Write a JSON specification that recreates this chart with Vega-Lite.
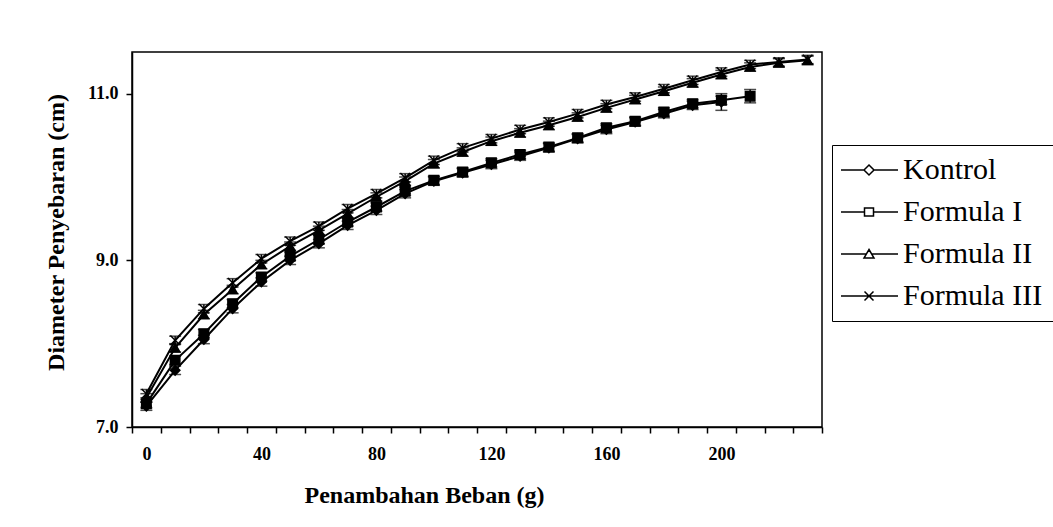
{
  "$schema": "https://vega.github.io/schema/vega-lite/v6.json",
  "width": 690,
  "height": 375,
  "autosize": "none",
  "padding": {"left": 132, "top": 52, "right": 231, "bottom": 100},
  "background": "white",
  "config": {
    "view": {"stroke": "black", "strokeWidth": 1.5},
    "axis": {
      "domainColor": "black", "domainWidth": 1.5, "tickColor": "black", "tickWidth": 1.5, "tickSize": 6,
      "labelColor": "black", "labelFont": "Liberation Serif", "labelFontWeight": "bold", "labelFontSize": 18,
      "titleFont": "Liberation Serif", "titleFontWeight": "bold", "titleFontSize": 24, "titleColor": "black", "grid": false
    }
  },
  "data": {"values": [
    {"series": "Kontrol", "load": 0, "diameter": 7.25, "sd": 0.05},
    {"series": "Kontrol", "load": 10, "diameter": 7.68, "sd": 0.05},
    {"series": "Kontrol", "load": 20, "diameter": 8.05, "sd": 0.05},
    {"series": "Kontrol", "load": 30, "diameter": 8.42, "sd": 0.05},
    {"series": "Kontrol", "load": 40, "diameter": 8.74, "sd": 0.05},
    {"series": "Kontrol", "load": 50, "diameter": 9.0, "sd": 0.05},
    {"series": "Kontrol", "load": 60, "diameter": 9.2, "sd": 0.05},
    {"series": "Kontrol", "load": 70, "diameter": 9.42, "sd": 0.05},
    {"series": "Kontrol", "load": 80, "diameter": 9.6, "sd": 0.05},
    {"series": "Kontrol", "load": 90, "diameter": 9.8, "sd": 0.05},
    {"series": "Kontrol", "load": 100, "diameter": 9.95, "sd": 0.05},
    {"series": "Kontrol", "load": 110, "diameter": 10.05, "sd": 0.05},
    {"series": "Kontrol", "load": 120, "diameter": 10.15, "sd": 0.05},
    {"series": "Kontrol", "load": 130, "diameter": 10.25, "sd": 0.05},
    {"series": "Kontrol", "load": 140, "diameter": 10.35, "sd": 0.05},
    {"series": "Kontrol", "load": 150, "diameter": 10.46, "sd": 0.05},
    {"series": "Kontrol", "load": 160, "diameter": 10.57, "sd": 0.05},
    {"series": "Kontrol", "load": 170, "diameter": 10.66, "sd": 0.05},
    {"series": "Kontrol", "load": 180, "diameter": 10.76, "sd": 0.05},
    {"series": "Kontrol", "load": 190, "diameter": 10.86, "sd": 0.05},
    {"series": "Kontrol", "load": 200, "diameter": 10.9, "sd": 0.1},
    {"series": "Formula I", "load": 0, "diameter": 7.28, "sd": 0.05},
    {"series": "Formula I", "load": 10, "diameter": 7.8, "sd": 0.05},
    {"series": "Formula I", "load": 20, "diameter": 8.12, "sd": 0.05},
    {"series": "Formula I", "load": 30, "diameter": 8.48, "sd": 0.05},
    {"series": "Formula I", "load": 40, "diameter": 8.8, "sd": 0.05},
    {"series": "Formula I", "load": 50, "diameter": 9.05, "sd": 0.05},
    {"series": "Formula I", "load": 60, "diameter": 9.25, "sd": 0.05},
    {"series": "Formula I", "load": 70, "diameter": 9.46, "sd": 0.05},
    {"series": "Formula I", "load": 80, "diameter": 9.64, "sd": 0.05},
    {"series": "Formula I", "load": 90, "diameter": 9.83, "sd": 0.05},
    {"series": "Formula I", "load": 100, "diameter": 9.96, "sd": 0.05},
    {"series": "Formula I", "load": 110, "diameter": 10.06, "sd": 0.05},
    {"series": "Formula I", "load": 120, "diameter": 10.17, "sd": 0.05},
    {"series": "Formula I", "load": 130, "diameter": 10.27, "sd": 0.05},
    {"series": "Formula I", "load": 140, "diameter": 10.36, "sd": 0.05},
    {"series": "Formula I", "load": 150, "diameter": 10.47, "sd": 0.05},
    {"series": "Formula I", "load": 160, "diameter": 10.59, "sd": 0.05},
    {"series": "Formula I", "load": 170, "diameter": 10.67, "sd": 0.05},
    {"series": "Formula I", "load": 180, "diameter": 10.78, "sd": 0.05},
    {"series": "Formula I", "load": 190, "diameter": 10.88, "sd": 0.05},
    {"series": "Formula I", "load": 200, "diameter": 10.92, "sd": 0.05},
    {"series": "Formula I", "load": 210, "diameter": 10.97, "sd": 0.08},
    {"series": "Formula II", "load": 0, "diameter": 7.35, "sd": 0.05},
    {"series": "Formula II", "load": 10, "diameter": 7.95, "sd": 0.05},
    {"series": "Formula II", "load": 20, "diameter": 8.35, "sd": 0.05},
    {"series": "Formula II", "load": 30, "diameter": 8.65, "sd": 0.05},
    {"series": "Formula II", "load": 40, "diameter": 8.95, "sd": 0.05},
    {"series": "Formula II", "load": 50, "diameter": 9.17, "sd": 0.05},
    {"series": "Formula II", "load": 60, "diameter": 9.36, "sd": 0.05},
    {"series": "Formula II", "load": 70, "diameter": 9.56, "sd": 0.05},
    {"series": "Formula II", "load": 80, "diameter": 9.76, "sd": 0.05},
    {"series": "Formula II", "load": 90, "diameter": 9.95, "sd": 0.05},
    {"series": "Formula II", "load": 100, "diameter": 10.16, "sd": 0.05},
    {"series": "Formula II", "load": 110, "diameter": 10.3, "sd": 0.05},
    {"series": "Formula II", "load": 120, "diameter": 10.43, "sd": 0.05},
    {"series": "Formula II", "load": 130, "diameter": 10.53, "sd": 0.05},
    {"series": "Formula II", "load": 140, "diameter": 10.62, "sd": 0.05},
    {"series": "Formula II", "load": 150, "diameter": 10.72, "sd": 0.05},
    {"series": "Formula II", "load": 160, "diameter": 10.83, "sd": 0.05},
    {"series": "Formula II", "load": 170, "diameter": 10.93, "sd": 0.05},
    {"series": "Formula II", "load": 180, "diameter": 11.03, "sd": 0.05},
    {"series": "Formula II", "load": 190, "diameter": 11.13, "sd": 0.05},
    {"series": "Formula II", "load": 200, "diameter": 11.23, "sd": 0.05},
    {"series": "Formula II", "load": 210, "diameter": 11.32, "sd": 0.05},
    {"series": "Formula II", "load": 220, "diameter": 11.37, "sd": 0.05},
    {"series": "Formula II", "load": 230, "diameter": 11.4, "sd": 0.05},
    {"series": "Formula III", "load": 0, "diameter": 7.4, "sd": 0.05},
    {"series": "Formula III", "load": 10, "diameter": 8.04, "sd": 0.05},
    {"series": "Formula III", "load": 20, "diameter": 8.42, "sd": 0.05},
    {"series": "Formula III", "load": 30, "diameter": 8.73, "sd": 0.05},
    {"series": "Formula III", "load": 40, "diameter": 9.02, "sd": 0.05},
    {"series": "Formula III", "load": 50, "diameter": 9.23, "sd": 0.05},
    {"series": "Formula III", "load": 60, "diameter": 9.41, "sd": 0.05},
    {"series": "Formula III", "load": 70, "diameter": 9.62, "sd": 0.05},
    {"series": "Formula III", "load": 80, "diameter": 9.8, "sd": 0.05},
    {"series": "Formula III", "load": 90, "diameter": 9.99, "sd": 0.05},
    {"series": "Formula III", "load": 100, "diameter": 10.2, "sd": 0.05},
    {"series": "Formula III", "load": 110, "diameter": 10.35, "sd": 0.05},
    {"series": "Formula III", "load": 120, "diameter": 10.46, "sd": 0.05},
    {"series": "Formula III", "load": 130, "diameter": 10.57, "sd": 0.05},
    {"series": "Formula III", "load": 140, "diameter": 10.66, "sd": 0.05},
    {"series": "Formula III", "load": 150, "diameter": 10.76, "sd": 0.05},
    {"series": "Formula III", "load": 160, "diameter": 10.87, "sd": 0.05},
    {"series": "Formula III", "load": 170, "diameter": 10.96, "sd": 0.05},
    {"series": "Formula III", "load": 180, "diameter": 11.06, "sd": 0.05},
    {"series": "Formula III", "load": 190, "diameter": 11.16, "sd": 0.05},
    {"series": "Formula III", "load": 200, "diameter": 11.26, "sd": 0.05},
    {"series": "Formula III", "load": 210, "diameter": 11.35, "sd": 0.05},
    {"series": "Formula III", "load": 220, "diameter": 11.38, "sd": 0.05},
    {"series": "Formula III", "load": 230, "diameter": 11.41, "sd": 0.05}
  ]},
  "encoding": {
    "y": {
      "field": "diameter", "type": "quantitative",
      "scale": {"domain": [7, 11.5], "nice": false, "zero": false},
      "axis": {"values": [7, 9, 11], "format": ".1f", "title": "Diameter Penyebaran (cm)", "titlePadding": 19, "labelPadding": 8, "titleY": 180}
    }
  },
  "layer": [
    {
      "mark": {"type": "errorbar", "color": "black", "ticks": {"color": "black", "size": 12, "thickness": 1.5}, "thickness": 1.5},
      "encoding": {
        "x": {"field": "load", "type": "quantitative", "scale": {"domain": [-5, 235], "nice": false, "zero": false}, "axis": null},
        "yError": {"field": "sd"},
        "detail": {"field": "series"}
      }
    },
    {
      "mark": {"type": "line", "color": "black", "strokeWidth": 2},
      "encoding": {
        "x": {"field": "load", "type": "quantitative", "scale": {"domain": [-5, 235], "nice": false, "zero": false},
          "axis": {"orient": "bottom", "values": [0, 40, 80, 120, 160, 200], "ticks": false, "domain": false, "labelPadding": 18, "title": "Penambahan Beban (g)", "titlePadding": 20, "titleX": 292}},
        "detail": {"field": "series"}
      }
    },
    {
      "mark": {"type": "point", "filled": true, "fill": "black", "stroke": "black", "strokeWidth": 1.5, "size": 90, "opacity": 1},
      "encoding": {
        "x": {"field": "load", "type": "quantitative", "scale": {"domain": [-5, 235], "nice": false, "zero": false},
          "axis": {"orient": "bottom", "values": [-5, 5, 15, 25, 35, 45, 55, 65, 75, 85, 95, 105, 115, 125, 135, 145, 155, 165, 175, 185, 195, 205, 215, 225, 235], "labels": false, "title": null}},
        "shape": {
          "field": "series", "type": "nominal",
          "scale": {"domain": ["Kontrol", "Formula I", "Formula II", "Formula III"], "range": ["diamond", "square", "triangle-up", "M-1,-1L1,1M-1,1L1,-1"]},
          "legend": null
        }
      }
    },
    {
      "transform": [{"filter": "datum.load < 0"}],
      "mark": {"type": "point", "filled": true, "fill": "white", "stroke": "black", "strokeWidth": 1.5, "size": 100, "opacity": 1},
      "encoding": {
        "x": {"field": "load", "type": "quantitative", "scale": {"domain": [-5, 235], "nice": false, "zero": false}, "axis": null},
        "shape": {
          "field": "series", "type": "nominal",
          "scale": {"domain": ["Kontrol", "Formula I", "Formula II", "Formula III"], "range": [
            "M-3.2,0H1.4M3.4,0H8.2M2.4,-1L3.4,0L2.4,1L1.4,0Z",
            "M-3.2,0H1.5M3.3,0H8.2M1.5,-0.8H3.3V0.8H1.5Z",
            "M-3.2,0H1.9M2.9,0H8.2M2.4,-0.9L3.4,0.8H1.4Z",
            "M-3.2,0H8.2M1.5,-0.9L3.3,0.9M1.5,0.9L3.3,-0.9"
          ]},
          "legend": {
            "title": null, "orient": "none", "legendX": 700, "legendY": 93,
            "strokeColor": "black", "padding": 10, "labelFont": "Liberation Serif", "labelFontSize": 30, "labelColor": "black",
            "labelOffset": 31, "symbolSize": 100, "rowPadding": 12
          }
        }
      }
    }
  ],
  "resolve": {"axis": {"x": "independent"}, "scale": {"shape": "independent"}, "legend": {"shape": "independent"}}
}
